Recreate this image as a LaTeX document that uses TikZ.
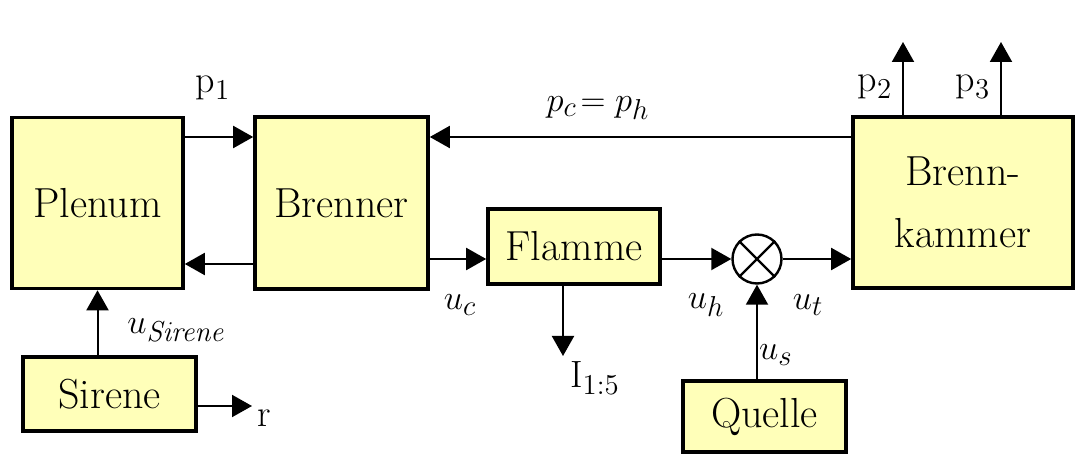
\documentclass[tikz,border=0pt]{standalone}
\usetikzlibrary{arrows.meta,shapes.geometric}
\definecolor{boxfill}{RGB}{255,255,185}
\begin{document}
\begin{tikzpicture}[x=0.5pt,y=-0.5pt,
  blk/.style={draw,line width=1.8pt,fill=boxfill,inner sep=0pt,font=\fontsize{21}{31}\selectfont,align=center},
  arr/.style={line width=1pt,-{Triangle[length=10pt,width=11pt]}},
  lbl/.style={font=\fontsize{19}{22}\selectfont,inner sep=0pt}]
\useasboundingbox (0,0) rectangle (1078,454);
\node[blk,minimum width=85.5pt,minimum height=85.5pt] (plenum) at (97.5,203) {Plenum};
\node[blk,minimum width=86.5pt,minimum height=86pt] (brenner) at (341.5,203) {Brenner};
\node[blk,minimum width=86pt,minimum height=37.5pt] (flamme) at (574,246.5) {Flamme};
\node[blk,minimum width=110pt,minimum height=85.5pt] (kammer) at (963,202.5) {Brenn-\\kammer};
\node[blk,minimum width=86.5pt,minimum height=37pt] (sirene) at (109.5,394) {Sirene};
\node[blk,minimum width=81.5pt,minimum height=35.5pt] (quelle) at (764.5,416.5) {Quelle};
\node[circle,draw,line width=1.2pt,minimum size=24.5pt,inner sep=0pt] (mix) at (757,259) {};
\draw[line width=1.2pt] (mix.north west) -- (mix.south east) (mix.north east) -- (mix.south west);
\coordinate (iend) at (563,356);
\coordinate (rend) at (252,406);
\coordinate (p2end) at (903,42);
\coordinate (p3end) at (1001,42);
% connectors
\draw[arr] (plenum.east |- 0,137) -- (brenner.west |- 0,137);
\draw[arr] (brenner.west |- 0,264) -- (plenum.east |- 0,264);
\draw[arr] (kammer.west |- 0,137) -- (brenner.east |- 0,137);
\draw[arr] (brenner.east |- 0,259) -- (flamme.west |- 0,259);
\draw[arr] (flamme.east |- mix) -- (mix.west);
\draw[arr] (mix.east) -- (kammer.west |- mix);
\draw[arr] (mix |- quelle.north) -- (mix.south);
\draw[arr] (iend |- flamme.south) -- (iend);
\draw[arr] (plenum.south |- sirene.north) -- (plenum.south);
\draw[arr] (sirene.east |- rend) -- (rend);
\draw[arr] (p2end |- kammer.north) -- (p2end);
\draw[arr] (p3end |- kammer.north) -- (p3end);
% labels
\node[lbl] (lp1) at (213,88) {p$_1$};
\node[lbl] (lpc) at (598,108) {$p_c\!=p_h$};
\node[lbl] (lp2) at (875,87) {p$_2$};
\node[lbl] (lp3) at (973,87) {p$_3$};
\node[lbl] (luc) at (460,305) {$u_c$};
\node[lbl] (luh) at (706,305) {$u_h$};
\node[lbl] (lut) at (808,305) {$u_t$};
\node[lbl] (lus) at (776,355) {$u_s$};
\node[lbl] (lI) at (595,378) {I$_{1:5}$};
\node[lbl] (lus2) at (177,330) {$u_{\mathit{Sirene}}$};
\node[lbl] (lr) at (264,418) {r};
\end{tikzpicture}
\end{document}
